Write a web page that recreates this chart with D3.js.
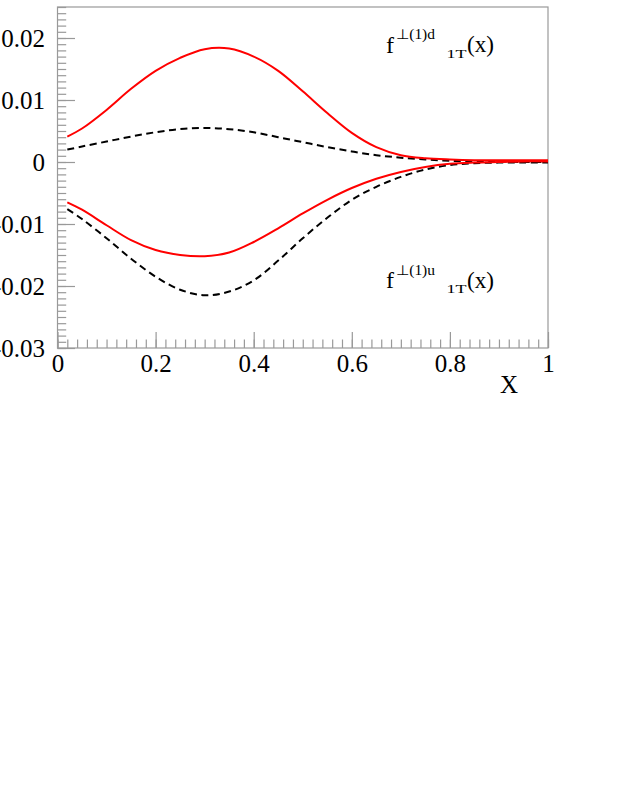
<!DOCTYPE html>
<html>
<head>
<meta charset="utf-8">
<script src="https://cdn.jsdelivr.net/npm/d3@7"></script>
<style>
  body { margin: 0; background: #fff; }
  svg { display: block; }
  svg text { font-family: "Liberation Serif", "Times New Roman", serif; }
</style>
</head>
<body>
<svg id="chart"></svg>
<script>
const xs = [0.02, 0.05, 0.10, 0.15, 0.20, 0.25, 0.30, 0.35, 0.40, 0.45, 0.50,
            0.55, 0.60, 0.65, 0.70, 0.75, 0.80, 0.85, 0.90, 0.95, 1.00];

const dRed  = [0.0041, 0.0054, 0.0084, 0.0118, 0.0147, 0.0168, 0.0182, 0.0183, 0.0170, 0.0147, 0.0114,
               0.0079, 0.0047, 0.0024, 0.0011, 0.0006, 0.0004, 0.0003, 0.0003, 0.0003, 0.0003];
const dDash = [0.0020, 0.0025, 0.0033, 0.0041, 0.0048, 0.0053, 0.0055, 0.0053, 0.0048, 0.0040, 0.0032,
               0.0024, 0.0017, 0.0011, 0.0007, 0.0004, 0.0002, 0.0001, 0.0001, 0.0000, 0.0000];
const uRed  = [-0.0065, -0.0077, -0.0102, -0.0126, -0.0142, -0.0150, -0.0152, -0.0146, -0.0129, -0.0107, -0.0083,
               -0.0061, -0.0042, -0.0027, -0.0016, -0.0008, -0.0003, -0.0001, 0.0000, 0.0001, 0.0001];
const uDash = [-0.0076, -0.0092, -0.0123, -0.0156, -0.0185, -0.0206, -0.0215, -0.0209, -0.0191, -0.0159, -0.0123,
               -0.0090, -0.0061, -0.0040, -0.0024, -0.0012, -0.0005, -0.0002, -0.0001, -0.0001, -0.0001];

const xTicks = [0, 0.2, 0.4, 0.6, 0.8, 1];
const xTickLabels = ["0", "0.2", "0.4", "0.6", "0.8", "1"];
const yTicks = [-0.03, -0.02, -0.01, 0, 0.01, 0.02];
const yTickLabels = ["-0.03", "-0.02", "-0.01", "0", "0.01", "0.02"];

const width = 623, height = 806;
const svg = d3.select("#chart").attr("width", width).attr("height", height);
svg.append("rect").attr("width", width).attr("height", height).attr("fill", "#fff");

const frameL = 57.5, frameR = 548, frameT = 7, frameB = 348;
const x = d3.scaleLinear().domain([0, 1]).range([frameL, frameR]);
const y = d3.scaleLinear().domain([-0.03, 0.025]).range([frameB, frameT]);

const axisColor = "#999";
const serif = "'Liberation Serif', 'Times New Roman', serif";

// minor ticks
const xMinor = d3.range(0, 1.0001, 0.02);
const yMinor = d3.range(-0.03, 0.0251, 0.001);

const gxMinor = svg.append("g").attr("transform", `translate(0,${frameB})`)
  .call(d3.axisBottom(x).tickValues(xMinor).tickSize(-8.5).tickFormat(""));
const gx = svg.append("g").attr("transform", `translate(0,${frameB})`)
  .call(d3.axisBottom(x).tickValues(xTicks).tickSize(-16).tickPadding(6)
    .tickFormat((d, i) => xTickLabels[i]));
const gyMinor = svg.append("g").attr("transform", `translate(${frameL},0)`)
  .call(d3.axisLeft(y).tickValues(yMinor).tickSize(-8.7).tickFormat(""));
const gy = svg.append("g").attr("transform", `translate(${frameL},0)`)
  .call(d3.axisLeft(y).tickValues(yTicks).tickSize(-17.5).tickPadding(12.5)
    .tickFormat((d, i) => yTickLabels[i]));

[gxMinor, gx, gyMinor, gy].forEach(g => {
  g.attr("font-family", serif).attr("font-size", 25);
  g.select(".domain").remove();
  g.selectAll("line").attr("stroke", axisColor).attr("stroke-width", 1.2);
  g.selectAll("text").attr("fill", "#000");
});

// frame
svg.append("rect")
  .attr("x", frameL).attr("y", frameT)
  .attr("width", frameR - frameL).attr("height", frameB - frameT)
  .attr("fill", "none").attr("stroke", axisColor).attr("stroke-width", 1.2);

const line = d3.line()
  .x((d, i) => x(xs[i]))
  .y(d => y(d))
  .curve(d3.curveCatmullRom);

const series = [
  { values: dDash, color: "#000", dash: "7,4.5" },
  { values: uDash, color: "#000", dash: "7,4.5" },
  { values: dRed, color: "#ff0000", dash: null },
  { values: uRed, color: "#ff0000", dash: null }
];

svg.append("g").selectAll("path")
  .data(series)
  .join("path")
  .attr("d", d => line(d.values))
  .attr("fill", "none")
  .attr("stroke", d => d.color)
  .attr("stroke-width", 2)
  .attr("stroke-dasharray", d => d.dash);

// labels
function fLabel(flavor, dy) {
  const g = svg.append("g").attr("transform", `translate(0,${dy})`);
  g.append("text").attr("x", 386).attr("y", 52.5).attr("font-size", 24).text("f");
  g.append("text").attr("x", 396).attr("y", 39).attr("font-size", 14)
    .attr("textLength", 39).attr("lengthAdjust", "spacingAndGlyphs")
    .text("\u22A5(1)" + flavor);
  g.append("text").attr("x", 446.5).attr("y", 57.5).attr("font-size", 13)
    .attr("textLength", 20).attr("lengthAdjust", "spacingAndGlyphs").text("1T");
  g.append("text").attr("x", 467).attr("y", 52).attr("font-size", 24)
    .attr("textLength", 27).attr("lengthAdjust", "spacingAndGlyphs").text("(x)");
}
fLabel("d", 0);
fLabel("u", 235.5);

svg.append("text")
  .attr("x", 518).attr("y", 393)
  .attr("text-anchor", "end")
  .attr("font-size", 25)
  .text("X");
</script>
</body>
</html>
